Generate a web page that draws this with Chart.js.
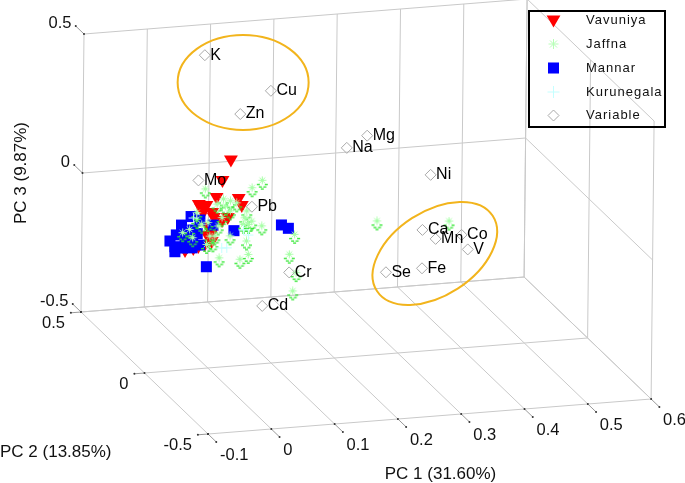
<!DOCTYPE html>
<html>
<head>
<meta charset="utf-8">
<style>
  html, body { margin: 0; padding: 0; background: #fff; }
  #myChart { display: block; }
</style>
<script src="https://cdn.jsdelivr.net/npm/chart.js@4/dist/chart.umd.js"></script>
</head>
<body>
<canvas id="myChart" width="685" height="483"></canvas>
<script>
// axis ticks
const pc1Ticks = [-0.1, 0, 0.1, 0.2, 0.3, 0.4, 0.5, 0.6];
const pc2Ticks = [0.5, 0, -0.5];
const pc3Ticks = [0.5, 0, -0.5];
const pc1TickLabels = ['-0.1', '0', '0.1', '0.2', '0.3', '0.4', '0.5', '0.6'];
const pc2TickLabels = ['0.5', '0', '-0.5'];
const pc3TickLabels = ['0.5', '0', '-0.5'];

// scores and loadings, [PC1, PC3]. depth can't be read from a flat picture so all sit on PC2 = 0
const depthPC2 = 0;
const vavuniya = [[.033,.244],[.020,.173],[.011,.113],[.046,.103],[.051,.077],[-.017,.093],[-.005,.087],
  [.004,.060],[.029,.038],[.020,.029],[-.002,.011],[-.003,-.021],[.004,-.044],[-.017,-.058],[-.025,-.064],
  [-.038,-.069],[-.010,.063],[.007,.042],[-.013,.078],[-.007,-.053],[.004,-.012]];
const jaffna = [[-.007,.131],[.083,.146],[.067,.122],[.022,.090],[.033,.081],[.012,.073],[.025,.064],
  [.059,.040],[.056,.016],[.067,.002],[.083,-.018],[.033,-.045],[.059,-.068],[.062,-.117],[.049,-.132],
  [.016,-.121],[.135,-.058],[.127,-.128],[.138,-.196],[.133,-.261],[.006,-.065],[.001,-.040],[-.002,.009],
  [-.020,.024],[-.031,-.010],[-.042,-.020],[-.020,.048],[-.012,.005],[-.026,-.041],[.014,-.006],[.020,.023],
  [.033,.045],[.043,.072],[.009,-.041],[-.004,-.069],[.062,-.009],[.054,-.007],[.265,-.033],[.379,-.054]];
const mannar = [[.114,-.006],[.125,-.020],[.039,-.013],[-.004,-.135],[-.029,.050],[-.044,.022],[-.015,.035],
  [-.062,-.032],[-.052,-.012],[-.054,-.072],[-.054,-.054],[.006,.013],[-.042,-.007],[-.026,.001],[-.019,-.013],
  [-.038,-.040],[-.026,-.042],[-.015,-.055],[-.042,-.061],[-.027,-.063]];
const kurunegala = [[.020,-.072],[.028,-.073],[.062,-.033],[.054,-.013],[-.025,.044]];
const variableNames = ['K','Cu','Zn','Mo','Pb','Cr','Cd','Mg','Na','Ni','Ca','Mn','Co','V','Fe','Se'];
const variables = [[-.010,.627],[.095,.480],[.047,.405],[-.018,.178],[.067,.068],[.127,-.179],[.085,-.292],
  [.248,.291],[.216,.253],[.349,.132],[.337,-.064],[.358,-.100],[.399,-.093],[.409,-.147],[.337,-.202],[.280,-.206]];

const legendNames = ['Vavuniya', 'Jaffna', 'Mannar', 'Kurunegala', 'Variable'];

// the two circled groups, centre in [PC1, PC3]
const circledGroups = [[.051,.518],[.357,-.152]];

// 3d view of the box -> flat coordinates for the hidden x/y scales
function project(pc1, pc2, pc3) {
  let a = pc1 + 0.1, b = 0.5 - pc2, c = pc3 + 0.5;
  return { x: 81 + a * 633 + b * 127 + c * 3, y: 312 - a * 50 + b * 122 - c * 278 };
}
function toPoints(list) {
  return list.map(p => project(p[0], depthPC2, p[1]));
}

// grid on the floor and the two walls, one path with gaps
let gridPath = [];
function addLine(a, b) {
  gridPath.push(project(a[0], a[1], a[2]), project(b[0], b[1], b[2]), { x: NaN, y: NaN });
}
pc1Ticks.forEach(t => {
  addLine([t, 0.5, -0.5], [t, -0.5, -0.5]);
  addLine([t, 0.5, -0.5], [t, 0.5, 0.5]);
});
pc2Ticks.forEach(t => {
  addLine([-0.1, t, -0.5], [0.6, t, -0.5]);
  addLine([0.6, t, -0.5], [0.6, t, 0.5]);
});
pc3Ticks.forEach(t => {
  addLine([-0.1, 0.5, t], [0.6, 0.5, t]);
  addLine([0.6, 0.5, t], [0.6, -0.5, t]);
});

// little tick stubs, they just run on along the neighbouring axis
let tickPath = [];
function addTick(a, b) {
  tickPath.push(project(a[0], a[1], a[2]), project(b[0], b[1], b[2]), { x: NaN, y: NaN });
}
pc1Ticks.forEach(t => addTick([t, -0.5, -0.5], [t, -0.565, -0.5]));
pc2Ticks.forEach(t => addTick([-0.1, t, -0.5], [-0.116, t, -0.5]));
pc3Ticks.forEach(t => addTick([-0.1, 0.5, t], [-0.1, 0.565, t]));

// Jaffna marker: pale star with the green dashes under it
function makeJaffnaSprite() {
  let c = document.createElement('canvas');
  c.width = 13; c.height = 17;
  let g = c.getContext('2d');
  g.strokeStyle = '#a8ffa8';
  g.lineWidth = 1;
  for (let i = 0; i < 4; i++) {
    let a = i * Math.PI / 4;
    g.beginPath();
    g.moveTo(6.5 - Math.cos(a) * 4, 4.5 - Math.sin(a) * 4);
    g.lineTo(6.5 + Math.cos(a) * 4, 4.5 + Math.sin(a) * 4);
    g.stroke();
  }
  g.fillStyle = '#2ee62e';
  g.fillRect(1, 8, 3, 1.3);
  g.fillRect(9, 8, 3, 1.3);
  g.fillRect(3, 10.5, 3, 1.3);
  g.fillRect(7.5, 10.5, 3, 1.3);
  g.fillRect(5, 12.5, 3, 1.3);
  return c;
}
const jaffnaSprite = makeJaffnaSprite();

const txt = '"Liberation Sans", Arial, sans-serif';

const textPlugin = {
  id: 'textPlugin',
  afterDatasetsDraw(chart) {
    const ctx = chart.ctx;
    const sx = chart.scales.x, sy = chart.scales.y;
    const px = p => ({ x: sx.getPixelForValue(p.x), y: sy.getPixelForValue(p.y) });

    // circled groups
    ctx.save();
    ctx.strokeStyle = '#f2b41c';
    ctx.lineWidth = 2;
    let e1 = px(toPoints([circledGroups[0]])[0]);
    ctx.beginPath();
    ctx.ellipse(e1.x, e1.y, 65.5, 47.5, 0, 0, Math.PI * 2);
    ctx.stroke();
    let e2 = px(toPoints([circledGroups[1]])[0]);
    ctx.beginPath();
    ctx.ellipse(e2.x, e2.y, 69, 42, -33 * Math.PI / 180, 0, Math.PI * 2);
    ctx.stroke();
    ctx.restore();

    ctx.save();
    ctx.fillStyle = '#000';
    ctx.textBaseline = 'middle';

    // variable names
    ctx.font = '16px ' + txt;
    ctx.textAlign = 'left';
    toPoints(variables).forEach((p, i) => {
      let q = px(p);
      ctx.fillText(variableNames[i], q.x + 5.5, q.y);
    });

    // tick labels
    ctx.font = '16.5px ' + txt;
    ctx.fillStyle = '#111';
    ctx.textAlign = 'left';
    pc1Ticks.forEach((t, i) => {
      let q = px(project(t, -0.5, -0.5));
      ctx.fillText(pc1TickLabels[i], q.x + 12, q.y + 21);
    });
    ctx.textAlign = 'right';
    pc2Ticks.forEach((t, i) => {
      let q = px(project(-0.1, t, -0.5));
      ctx.fillText(pc2TickLabels[i], q.x - 16, q.y + 11);
    });
    pc3Ticks.forEach((t, i) => {
      let q = px(project(-0.1, 0.5, t));
      ctx.fillText(pc3TickLabels[i], q.x - 12.5, q.y - 11);
    });

    // axis titles
    ctx.font = '17px ' + txt;
    ctx.textAlign = 'center';
    ctx.fillText('PC 1 (31.60%)', 440.5, 474);
    ctx.textAlign = 'left';
    ctx.fillText('PC 2 (13.85%)', 0, 452);
    ctx.save();
    ctx.translate(21, 173);
    ctx.rotate(-Math.PI / 2);
    ctx.textAlign = 'center';
    ctx.fillText('PC 3 (9.87%)', 0, 0);
    ctx.restore();

    // legend box, see through like the original
    ctx.strokeStyle = '#000';
    ctx.lineWidth = 2;
    ctx.strokeRect(529, 11, 136, 116);
    const rowY = [20, 44, 68, 92, 115];
    ctx.font = '13px ' + txt;
    ctx.letterSpacing = '1px';
    ctx.textAlign = 'left';
    ctx.fillStyle = '#111';
    legendNames.forEach((n, i) => ctx.fillText(n, 586, rowY[i]));
    ctx.restore();
  }
};

const legendMarkers = {
  id: 'legendMarkers',
  afterDatasetsDraw(chart) {
    const ctx = chart.ctx;
    const h = Chart.helpers;
    ctx.save();
    ctx.lineWidth = 1;
    ctx.fillStyle = '#ff0000'; ctx.strokeStyle = 'rgba(0,0,0,0)';
    h.drawPoint(ctx, { pointStyle: 'triangle', rotation: 180, radius: 8, borderWidth: 0 }, 553.5, 19.5);
    ctx.strokeStyle = '#b8ffb8';
    h.drawPoint(ctx, { pointStyle: 'star', rotation: 0, radius: 5, borderWidth: 1 }, 553.5, 44);
    ctx.fillStyle = '#0000ff'; ctx.strokeStyle = 'rgba(0,0,0,0)';
    h.drawPoint(ctx, { pointStyle: 'rect', rotation: 0, radius: 7.8, borderWidth: 0 }, 553.5, 68);
    ctx.strokeStyle = '#c4ffff';
    h.drawPoint(ctx, { pointStyle: 'cross', rotation: 0, radius: 6, borderWidth: 1 }, 553.5, 92);
    ctx.fillStyle = 'rgba(0,0,0,0)'; ctx.strokeStyle = '#a8a8a8';
    h.drawPoint(ctx, { pointStyle: 'rectRot', rotation: 0, radius: 5.5, borderWidth: 1 }, 553.5, 115.5);
    ctx.restore();
  }
};

const config = {
  type: 'scatter',
  data: {
    datasets: [
      { label: 'grid', data: gridPath, showLine: true, spanGaps: false, pointRadius: 0,
        borderColor: '#c9c9c9', borderWidth: 1, order: 10 },
      { label: 'ticks', data: tickPath, showLine: true, spanGaps: false, pointRadius: 1,
        pointBackgroundColor: '#333', pointBorderWidth: 0, borderColor: '#999', borderWidth: 1, order: 9 },
      { label: 'Vavuniya', data: toPoints(vavuniya), pointStyle: 'triangle', rotation: 180, pointRadius: 8,
        pointBorderWidth: 0, backgroundColor: '#ff0000', order: 6 },
      { label: 'Mannar', data: toPoints(mannar), pointStyle: 'rect', pointRadius: 7.8, pointBorderWidth: 0,
        backgroundColor: '#0000ff', order: 5 },
      { label: 'Jaffna', data: toPoints(jaffna), pointStyle: jaffnaSprite, pointRadius: 5, order: 4 },
      { label: 'Kurunegala', data: toPoints(kurunegala), pointStyle: 'cross', pointRadius: 5, pointBorderWidth: 1,
        borderColor: '#c4ffff', order: 3 },
      { label: 'Variable', data: toPoints(variables), pointStyle: 'rectRot', pointRadius: 5.5, pointBorderWidth: 1,
        borderColor: '#a8a8a8', backgroundColor: 'rgba(0,0,0,0)', order: 2 }
    ]
  },
  options: {
    responsive: false,
    animation: false,
    events: [],
    layout: { padding: 0, autoPadding: false },
    plugins: { legend: { display: false }, tooltip: { enabled: false }, title: { display: false } },
    scales: {
      x: { type: 'linear', display: false, min: 0, max: 685 },
      y: { type: 'linear', display: false, min: 0, max: 483, reverse: true }
    }
  },
  plugins: [legendMarkers, textPlugin]
};

var myChart = new Chart(document.getElementById('myChart'), config);
</script>
</body>
</html>
